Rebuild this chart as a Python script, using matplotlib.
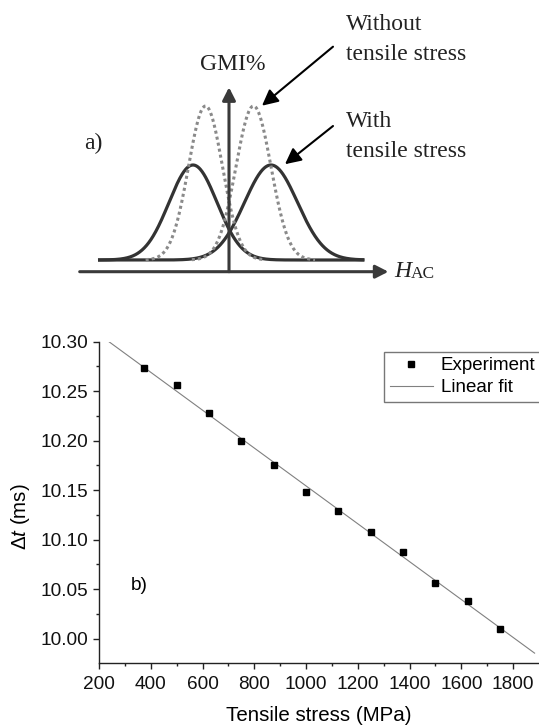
import numpy as np
import matplotlib
matplotlib.use('Agg')
import matplotlib.pyplot as plt

plt.rcParams['font.family'] = ['Liberation Sans', 'DejaVu Sans']
plt.rcParams['mathtext.fontset'] = 'custom'
plt.rcParams['mathtext.rm'] = 'Liberation Sans'
plt.rcParams['mathtext.it'] = 'Liberation Sans:italic'

# ---------------- data ----------------
# panel a) schematic GMI curves (peak centre, width, height in sketch units)
solid_centers = [-36, 42]
solid_sigmas = [24, 26.5]
solid_height = 95
dotted_centers = [-23.5, 24.5]
dotted_sigmas = [17, 17.5]
dotted_height = 154
baseline = 11.7

# panel b) experiment
stress = [375, 500, 625, 750, 875, 1000, 1125, 1250, 1375, 1500, 1625, 1750]
delta_t = [10.273, 10.256, 10.228, 10.1995, 10.175, 10.148,
           10.129, 10.108, 10.087, 10.056, 10.038, 10.010]
fit_range = [236, 1883]

W, H = 539, 727
fig = plt.figure(figsize=(W / 100, H / 100), dpi=100)

############## panel a) ##############
top_h = 290
ax_a = fig.add_axes([0, 1 - top_h / H, 1, top_h / H])
ax_a.set_xlim(-229, W - 229)
ax_a.set_ylim(271.7 - top_h, 271.7)
ax_a.axis('off')

h = np.linspace(-131, 135.4, 600)
for c, s in zip(solid_centers, solid_sigmas):
    ax_a.plot(h, baseline + solid_height * np.exp(-(h - c) ** 2 / (2 * s ** 2)),
              color='#333333', lw=2.3, solid_capstyle='butt', zorder=3)
for c, s in zip(dotted_centers, dotted_sigmas):
    g = dotted_height * np.exp(-(h - c) ** 2 / (2 * s ** 2))
    mask = g > 0.3
    ax_a.plot(h[mask], baseline + g[mask], color='#8a8a8a', lw=2.2,
              linestyle=(0, (1, 1)), zorder=4)

axis_arrow = dict(arrowstyle='-|>,head_length=0.55,head_width=0.28', color='#3a3a3a',
                  lw=2.2, shrinkA=0, shrinkB=0, mutation_scale=14)
ax_a.annotate('', xy=(159.4, 0), xytext=(-149.3, 0), arrowprops=axis_arrow, zorder=5)
ax_a.annotate('', xy=(0, 184.4), xytext=(0, 0), arrowprops=axis_arrow, zorder=5)

ptr = dict(arrowstyle='-|>,head_length=0.6,head_width=0.3', color='black',
           lw=1.5, shrinkA=0, shrinkB=0, mutation_scale=16)
ax_a.annotate('', xy=(33, 166), xytext=(104, 225), arrowprops=ptr)
ax_a.annotate('', xy=(56, 107.5), xytext=(104, 145.7), arrowprops=ptr)

serif = dict(family='Liberation Serif', fontsize=17, color='#222222')
ax_a.text(4, 206.7, 'GMI%', ha='center', va='center', **serif)
ax_a.text(116.5, 246.7, 'Without', ha='left', va='center', **serif)
ax_a.text(116.5, 216.7, 'tensile stress', ha='left', va='center', **serif)
ax_a.text(116.5, 150, 'With', ha='left', va='center', **serif)
ax_a.text(116.5, 120, 'tensile stress', ha='left', va='center', **serif)
ax_a.text(-135.3, 128.7, 'a)', ha='center', va='center', **serif)
ax_a.text(165.6, -5, 'H', ha='left', va='baseline', style='italic', **serif)
ax_a.text(181.8, -6.6, 'AC', ha='left', va='baseline', family='Liberation Serif',
          fontsize=12.5, color='#222222')

############## panel b) ##############
left, right = 99 / W, 1.0
bottom, top = (H - 663.3) / H, (H - 341.7) / H
ax = fig.add_axes([left, bottom, right - left, top - bottom])

coef = np.polyfit(stress, delta_t, 1)
xf = np.array(fit_range, dtype=float)
ax.plot(xf, np.polyval(coef, xf), color='#808080', lw=0.8, label='Linear fit', zorder=2)
ax.plot(stress, delta_t, 's', color='black', markersize=5, label='Experiment', zorder=3)

ax.set_xlim(200, 1900)
ax.set_ylim(9.975, 10.30)
ax.set_xticks(np.arange(200, 1801, 200))
ax.set_xticks(np.arange(300, 1900, 200), minor=True)
yt = np.arange(10.00, 10.301, 0.05)
ax.set_yticks(yt)
ax.set_yticks(np.arange(10.025, 10.30, 0.05), minor=True)
ax.set_yticklabels([f'{v:.2f}' for v in yt])

for side in ['top', 'right']:
    ax.spines[side].set_visible(False)
for side in ['left', 'bottom']:
    ax.spines[side].set_linewidth(1.0)
    ax.spines[side].set_color('#222222')

ax.tick_params(which='major', direction='out', length=4.5, width=1.0, color='#222222',
               labelsize=13.7, labelcolor='#111111')
ax.tick_params(which='minor', direction='out', length=2.5, width=1.0, color='#222222')
ax.tick_params(axis='x', which='major', pad=5)
ax.tick_params(axis='y', which='major', pad=3)

ax.set_xlabel('Tensile stress (MPa)', fontsize=14.8, labelpad=9)
ax.set_ylabel(r'$\Delta t$ (ms)', fontsize=14.8)
ax.yaxis.set_label_coords(-0.152, 0.455)

fig.text(139 / W, 1 - 585 / H, 'b)', fontsize=13.7, ha='center', va='center')

handles, labels = ax.get_legend_handles_labels()
leg = ax.legend(handles[::-1], labels[::-1], loc='upper left',
                bbox_to_anchor=(384.3 / W, 1 - 351.7 / H), bbox_transform=fig.transFigure,
                borderaxespad=0, fancybox=False, frameon=True, fontsize=13.5,
                handlelength=2.3, handletextpad=0.4, borderpad=0.3, labelspacing=0.25,
                numpoints=1, markerscale=0.85)
leg.get_frame().set_edgecolor('#555555')
leg.get_frame().set_linewidth(1.0)

fig.savefig('out.png', dpi=100)
